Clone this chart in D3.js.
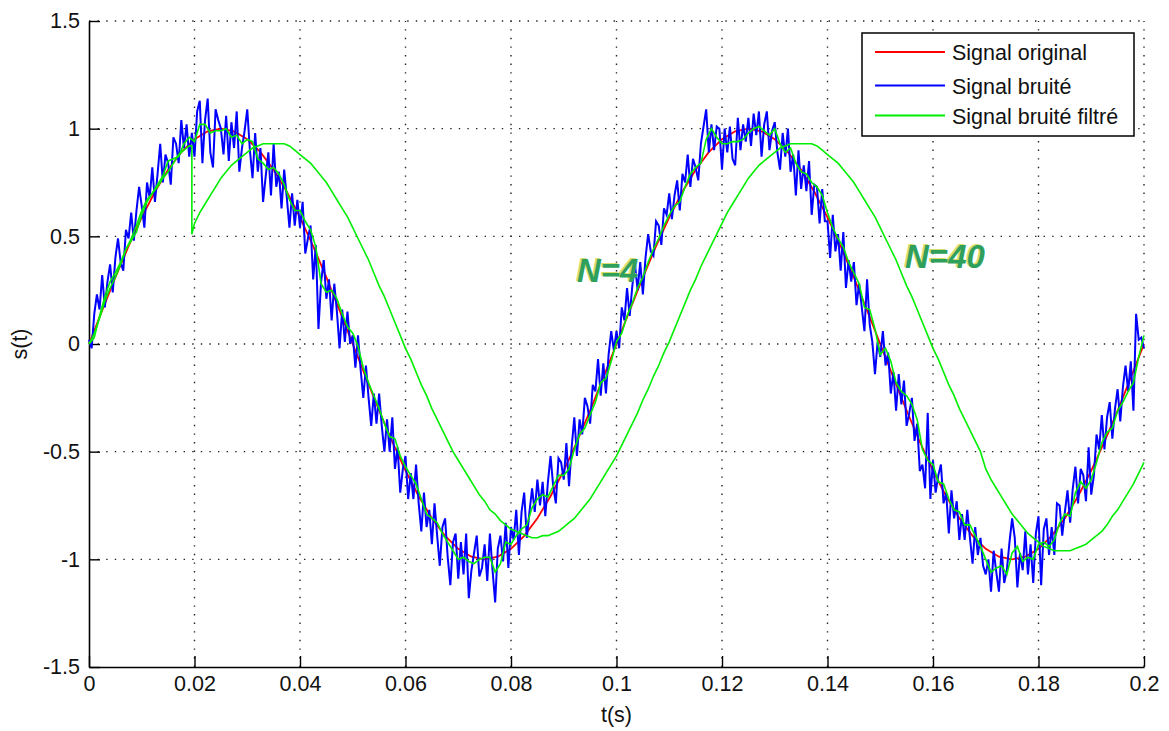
<!DOCTYPE html>
<html><head><meta charset="utf-8">
<script src="https://cdn.jsdelivr.net/npm/d3@7/dist/d3.min.js"></script>
<style>html,body{margin:0;padding:0;background:#fff}</style>
</head><body>
<svg id="chart" width="1169" height="731"></svg>
<script>
// ---------- DATA ----------
const xTicks = [0, 0.02, 0.04, 0.06, 0.08, 0.1, 0.12, 0.14, 0.16, 0.18, 0.2];
const xTickLabels = ["0", "0.02", "0.04", "0.06", "0.08", "0.1", "0.12", "0.14", "0.16", "0.18", "0.2"];
const yTicks = [-1.5, -1, -0.5, 0, 0.5, 1, 1.5];
const yTickLabels = ["-1.5", "-1", "-0.5", "0", "0.5", "1", "1.5"];
const seriesNames = ["Signal original", "Signal bruité", "Signal bruité filtré"];
const xLabel = "t(s)";
const yLabel = "s(t)";

// original signal, one value every 0.0025 s
const originalStep = 0.0025;
const originalValues = [
  0, .156, .309, .454, .588, .707, .809, .891, .951, .988, 1,
  .988, .951, .891, .809, .707, .588, .454, .309, .156, 0,
  -.156, -.309, -.454, -.588, -.707, -.809, -.891, -.951, -.988, -1,
  -.988, -.951, -.891, -.809, -.707, -.588, -.454, -.309, -.156, 0,
  .156, .309, .454, .588, .707, .809, .891, .951, .988, 1,
  .988, .951, .891, .809, .707, .588, .454, .309, .156, 0,
  -.156, -.309, -.454, -.588, -.707, -.809, -.891, -.951, -.988, -1,
  -.988, -.951, -.891, -.809, -.707, -.588, -.454, -.309, -.156, 0
];

// noisy signal, one value every 0.0005 s
const noisyStep = 0.0005;
const noisyValues = [
  0.02,-0.02,0.14,0.23,0.16,0.32,0.17,0.29,0.37,0.24,
  0.40,0.49,0.38,0.34,0.53,0.49,0.61,0.48,0.62,0.73,
  0.64,0.54,0.75,0.68,0.82,0.66,0.79,0.93,0.75,0.88,
  0.84,0.74,0.96,0.93,0.84,1.04,0.91,1.02,0.87,0.98,
  0.87,1.08,1.13,0.84,1.04,1.14,0.89,0.82,1.09,1.04,
  1.00,0.88,1.06,0.85,1.03,0.91,1.08,0.80,0.91,0.99,
  1.09,0.90,0.77,0.98,0.80,0.91,0.66,0.78,0.89,0.69,
  0.93,0.73,0.80,0.63,0.81,0.68,0.54,0.70,0.55,0.67,
  0.54,0.66,0.42,0.49,0.55,0.30,0.46,0.07,0.29,0.39,
  0.21,0.30,0.11,0.28,0.15,-0.02,0.16,0.01,0.15,0.00,
  0.04,-0.11,0.04,-0.12,-0.25,-0.10,-0.25,-0.38,-0.23,-0.37,
  -0.23,-0.38,-0.50,-0.35,-0.50,-0.34,-0.58,-0.48,-0.69,-0.58,
  -0.52,-0.72,-0.60,-0.72,-0.56,-0.74,-0.87,-0.69,-0.85,-0.77,
  -0.93,-0.74,-0.89,-1.03,-0.85,-0.81,-0.99,-1.12,-0.92,-0.88,
  -1.09,-0.92,-1.07,-0.88,-1.18,-1.05,-0.97,-0.89,-1.08,-1.04,
  -0.93,-1.10,-0.88,-1.05,-1.20,-0.95,-0.89,-1.01,-0.83,-1.04,
  -0.85,-0.91,-0.77,-0.98,-0.78,-0.69,-0.90,-0.78,-0.67,-0.78,
  -0.63,-0.75,-0.64,-0.80,-0.64,-0.52,-0.66,-0.74,-0.53,-0.55,
  -0.63,-0.46,-0.66,-0.48,-0.34,-0.52,-0.35,-0.42,-0.25,-0.29,
  -0.37,-0.19,-0.22,-0.07,-0.24,-0.09,-0.23,-0.05,0.06,-0.03,
  0.06,-0.02,0.17,0.11,0.26,0.13,0.27,0.37,0.25,0.38,
  0.23,0.40,0.51,0.43,0.41,0.57,0.55,0.46,0.63,0.60,
  0.70,0.58,0.69,0.76,0.62,0.79,0.75,0.88,0.73,0.86,
  0.82,0.76,0.93,1.01,1.09,0.89,1.02,0.90,1.01,1.00,
  0.81,1.00,0.89,1.01,0.86,0.83,1.05,0.90,1.02,0.94,
  1.05,0.92,1.07,0.97,1.08,0.87,1.02,1.08,0.90,0.99,
  1.03,0.89,0.81,0.98,0.87,1.00,0.80,0.88,0.69,0.90,
  0.72,0.83,0.71,0.85,0.60,0.74,0.73,0.56,0.72,0.57,
  0.57,0.40,0.60,0.43,0.51,0.34,0.52,0.26,0.39,0.29,
  0.38,0.18,0.28,0.17,0.06,0.30,0.09,0.01,-0.14,0.01,
  -0.06,0.06,-0.10,-0.04,-0.23,-0.13,-0.31,-0.14,-0.28,-0.17,
  -0.38,-0.32,-0.25,-0.45,-0.37,-0.59,-0.56,-0.67,-0.32,-0.72,
  -0.54,-0.69,-0.61,-0.56,-0.74,-0.69,-0.88,-0.68,-0.81,-0.73,
  -0.91,-0.79,-0.91,-0.77,-0.90,-1.02,-0.85,-0.98,-0.90,-1.03,
  -1.07,-1.00,-1.15,-0.96,-1.06,-1.15,-0.95,-1.11,-1.05,-0.92,
  -0.81,-0.90,-1.13,-0.97,-1.05,-0.87,-1.07,-0.93,-1.11,-0.88,
  -0.80,-1.12,-0.86,-0.81,-0.98,-0.85,-0.98,-0.74,-0.75,-0.89,
  -0.78,-0.68,-0.83,-0.67,-0.57,-0.74,-0.58,-0.61,-0.73,-0.48,
  -0.70,-0.61,-0.42,-0.49,-0.33,-0.49,-0.34,-0.27,-0.44,-0.30,
  -0.21,-0.36,-0.20,-0.10,-0.22,-0.08,-0.31,0.14,0.02,0.03,
  -0.02
];

// filtered signal N=4, one value every 0.001 s
const filtered4Step = 0.001;
const filtered4Values = [
  0,0.03,0.13,0.22,0.29,0.33,0.38,0.44,0.49,0.55,
  0.62,0.67,0.70,0.74,0.78,0.85,0.86,0.87,0.93,0.96,
  0.94,1.02,1.02,0.98,0.99,0.99,1.00,0.96,0.97,0.93,
  0.95,0.94,0.86,0.84,0.81,0.82,0.79,0.74,0.67,0.62,
  0.62,0.57,0.53,0.45,0.28,0.24,0.25,0.21,0.14,0.08,
  0.05,-0.01,-0.11,-0.18,-0.24,-0.30,-0.37,-0.43,-0.44,-0.52,
  -0.57,-0.61,-0.65,-0.72,-0.79,-0.81,-0.83,-0.88,-0.92,-0.96,
  -1.00,-0.99,-1.01,-1.02,-1.00,-0.99,-0.99,-1.06,-1.02,-0.92,
  -0.93,-0.89,-0.86,-0.84,-0.76,-0.72,-0.70,-0.71,-0.66,-0.61,
  -0.61,-0.58,-0.49,-0.42,-0.39,-0.33,-0.27,-0.18,-0.16,-0.08,
  0.01,0.05,0.13,0.19,0.26,0.31,0.38,0.44,0.49,0.55,
  0.60,0.64,0.66,0.73,0.79,0.82,0.84,0.95,1.00,0.96,
  0.93,0.93,0.94,0.94,0.95,0.98,1.00,1.01,0.99,0.97,
  1.00,0.93,0.89,0.91,0.84,0.80,0.79,0.75,0.73,0.69,
  0.61,0.54,0.49,0.45,0.38,0.33,0.28,0.17,0.16,0.07,
  -0.05,-0.02,-0.08,-0.18,-0.22,-0.24,-0.28,-0.35,-0.49,-0.54,
  -0.56,-0.64,-0.65,-0.72,-0.77,-0.78,-0.84,-0.84,-0.89,-0.94,
  -1.00,-1.06,-1.04,-1.03,-1.07,-0.97,-0.94,-1.01,-0.99,-1.00,
  -0.93,-0.92,-0.94,-0.91,-0.83,-0.79,-0.80,-0.69,-0.64,-0.67,
  -0.63,-0.55,-0.46,-0.41,-0.39,-0.31,-0.27,-0.22,-0.18,-0.06,
  0.04
];

// filtered signal N=40: start-up part (0 .. 0.019 s, every 0.001 s)
const filtered40PreStep = 0.001;
const filtered40PreValues = [0, 0.05, 0.12, 0.20, 0.26, 0.31, 0.37, 0.44, 0.48, 0.52,
  0.60, 0.66, 0.70, 0.73, 0.77, 0.80, 0.84, 0.88, 0.90, 0.92];
const filtered40JumpTime = 0.0195;
const filtered40JumpValues = [0.92, 0.51];
// filtered signal N=40: from 0.02 s to 0.2 s, every 0.001 s
const filtered40Start = 0.02;
const filtered40Step = 0.001;
const filtered40Values = [
  0.56,0.61,0.65,0.69,0.73,0.77,0.80,0.83,0.85,0.87,
  0.89,0.91,0.92,0.93,0.93,0.93,0.93,0.93,0.92,0.90,
  0.88,0.86,0.84,0.81,0.78,0.75,0.71,0.67,0.63,0.59,
  0.54,0.49,0.44,0.39,0.33,0.27,0.22,0.16,0.10,0.04,
  -0.02,-0.07,-0.13,-0.19,-0.24,-0.30,-0.35,-0.40,-0.45,-0.50,
  -0.54,-0.58,-0.62,-0.66,-0.70,-0.73,-0.77,-0.79,-0.82,-0.84,
  -0.86,-0.87,-0.88,-0.89,-0.90,-0.90,-0.89,-0.89,-0.88,-0.87,
  -0.85,-0.83,-0.81,-0.78,-0.75,-0.72,-0.68,-0.64,-0.60,-0.56,
  -0.52,-0.47,-0.42,-0.37,-0.32,-0.26,-0.21,-0.15,-0.10,-0.04,
  0.01,0.07,0.13,0.19,0.25,0.30,0.36,0.41,0.46,0.51,
  0.56,0.61,0.65,0.69,0.73,0.77,0.80,0.83,0.85,0.87,
  0.89,0.91,0.92,0.93,0.93,0.93,0.93,0.93,0.92,0.90,
  0.88,0.86,0.84,0.81,0.78,0.75,0.71,0.67,0.63,0.59,
  0.54,0.49,0.44,0.39,0.33,0.27,0.22,0.16,0.10,0.04,
  -0.02,-0.07,-0.13,-0.19,-0.24,-0.30,-0.35,-0.40,-0.45,-0.50,
  -0.58,-0.63,-0.67,-0.71,-0.75,-0.79,-0.82,-0.85,-0.88,-0.90,
  -0.92,-0.94,-0.95,-0.96,-0.96,-0.96,-0.96,-0.95,-0.94,-0.93,
  -0.91,-0.89,-0.87,-0.84,-0.80,-0.77,-0.73,-0.69,-0.65,-0.60,
  -0.55
];

// annotation texts and their anchor (t, s) in data space
const annotationTexts = ["N=4", "N=40"];
const annotationT = [0.0925, 0.1547];
const annotationS = [0.288, 0.353];

// ---------- LAYOUT ----------
const W = 1169, H = 731;
const M = {left: 89, right: 1144, top: 21, bottom: 667};
const FONT = "'Liberation Sans', Arial, Helvetica, sans-serif";
const FS = "21.5px";
const colors = ["#ff0000", "#0000ff", "#00ee00"];

const svg = d3.select("#chart");
svg.append("rect").attr("width", W).attr("height", H).attr("fill", "#fff");

const x = d3.scaleLinear().domain([0, 0.2]).range([M.left, M.right]);
const y = d3.scaleLinear().domain([-1.5, 1.5]).range([M.bottom, M.top]);

// grid (dotted)
const grid = svg.append("g").attr("stroke", "#222").attr("stroke-width", 1.4)
  .attr("stroke-dasharray", "1.4 7.2").attr("fill", "none");
xTicks.slice(1).forEach(t => {
  grid.append("line").attr("x1", x(t)).attr("x2", x(t))
    .attr("y1", y(-1.5)).attr("y2", y(1.5));
});
yTicks.slice(1).forEach(v => {
  grid.append("line").attr("x1", x(0)).attr("x2", x(0.2))
    .attr("y1", y(v)).attr("y2", y(v));
});

// axes
const xAxis = d3.axisBottom(x).tickValues(xTicks)
  .tickFormat((d, i) => xTickLabels[i]).tickSizeInner(-11).tickSizeOuter(0).tickPadding(9);
const yAxis = d3.axisLeft(y).tickValues(yTicks)
  .tickFormat((d, i) => yTickLabels[i]).tickSizeInner(-11).tickSizeOuter(0).tickPadding(9);

const gx = svg.append("g").attr("transform", `translate(0,${M.bottom})`).call(xAxis);
const gy = svg.append("g").attr("transform", `translate(${M.left},0)`).call(yAxis);
[gx, gy].forEach(g => {
  g.select(".domain").attr("stroke", "#000").attr("stroke-width", 1.6);
  g.selectAll(".tick line").attr("stroke", "#000").attr("stroke-width", 1.4);
  g.selectAll(".tick text").attr("fill", "#111").style("font-family", FONT).style("font-size", FS);
});

// axis labels
svg.append("text").attr("x", (M.left + M.right) / 2).attr("y", 722)
  .attr("text-anchor", "middle").style("font-family", FONT).style("font-size", FS)
  .attr("fill", "#111").text(xLabel);
svg.append("text").attr("transform", `translate(27,${(M.top + M.bottom) / 2}) rotate(-90)`)
  .attr("text-anchor", "middle").style("font-family", FONT).style("font-size", FS)
  .attr("fill", "#111").text(yLabel);

// series
const line = d3.line().x(d => x(d[0])).y(d => y(d[1]));
const originalPts = originalValues.map((v, i) => [i * originalStep, v]);
const noisyPts = noisyValues.map((v, i) => [i * noisyStep, v]);
const f4Pts = filtered4Values.map((v, i) => [i * filtered4Step, v]);
const f40Pts = filtered40PreValues.map((v, i) => [i * filtered40PreStep, v])
  .concat(filtered40JumpValues.map(v => [filtered40JumpTime, v]))
  .concat(filtered40Values.map((v, i) => [filtered40Start + i * filtered40Step, v]));

svg.append("path").datum(originalPts).attr("d", line).attr("fill", "none")
  .attr("stroke", colors[0]).attr("stroke-width", 1.8);
svg.append("path").datum(noisyPts).attr("d", line).attr("fill", "none")
  .attr("stroke", colors[1]).attr("stroke-width", 2);
svg.append("path").datum(f4Pts).attr("d", line).attr("fill", "none")
  .attr("stroke", colors[2]).attr("stroke-width", 1.6);
svg.append("path").datum(f40Pts).attr("d", line).attr("fill", "none")
  .attr("stroke", colors[2]).attr("stroke-width", 1.6);

// annotations
annotationTexts.forEach((txt, i) => {
  const ax = x(annotationT[i]), ay = y(annotationS[i]);
  svg.append("text").attr("x", ax - 1.5).attr("y", ay - 1)
    .style("font-family", FONT).style("font-size", "33px").style("font-weight", "bold")
    .style("font-style", "italic").attr("fill", "#d8dc6a").text(txt);
  svg.append("text").attr("x", ax).attr("y", ay)
    .style("font-family", FONT).style("font-size", "33px").style("font-weight", "bold")
    .style("font-style", "italic").attr("fill", "#2f9f5c").text(txt);
});

// legend
const lg = svg.append("g");
lg.append("rect").attr("x", 862).attr("y", 33).attr("width", 272).attr("height", 103)
  .attr("fill", "#fff").attr("stroke", "#000").attr("stroke-width", 1.5);
const rowY = [52, 85.5, 115.5];
seriesNames.forEach((name, i) => {
  lg.append("line").attr("x1", 875).attr("x2", 945).attr("y1", rowY[i]).attr("y2", rowY[i])
    .attr("stroke", colors[i]).attr("stroke-width", 1.8);
  lg.append("text").attr("x", 952).attr("y", rowY[i] + 8)
    .style("font-family", FONT).style("font-size", FS).attr("fill", "#111").text(name);
});
</script>
</body></html>
